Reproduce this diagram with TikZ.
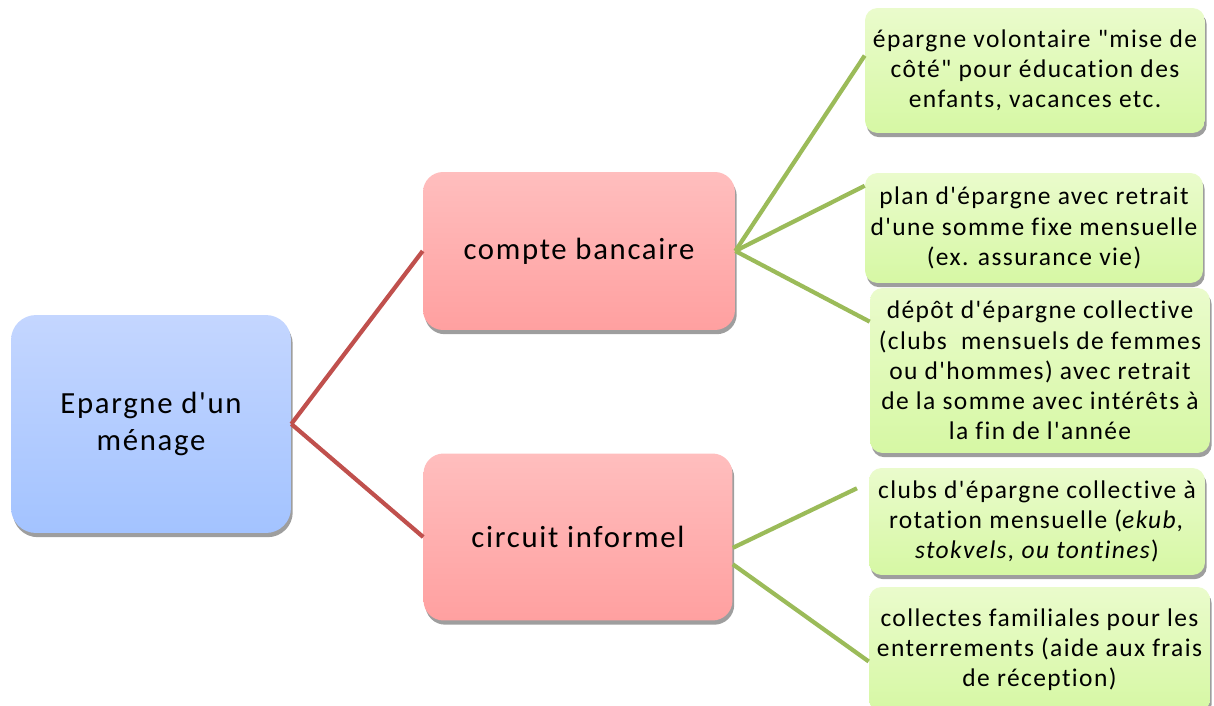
\documentclass[tikz,border=0pt]{standalone}
\usepackage{fontspec}
\setmainfont{Carlito}[Ligatures={TeXOff,NoCommon},LetterSpace=5.5]
\usetikzlibrary{shadows}
\definecolor{rootTop}{RGB}{196,214,255}
\definecolor{rootBot}{RGB}{163,195,255}
\definecolor{midTop}{RGB}{255,190,190}
\definecolor{midBot}{RGB}{255,160,160}
\definecolor{leafTop}{RGB}{234,251,204}
\definecolor{leafBot}{RGB}{214,248,164}
\definecolor{linkRed}{RGB}{192,80,77}
\definecolor{linkGreen}{RGB}{155,187,89}
\tikzset{
  basebox/.style={rectangle,align=center,inner sep=2pt,
    drop shadow={shadow xshift=1pt,shadow yshift=-2.4pt,fill=black!38,opacity=1}},
  rootnode/.style={basebox,rounded corners=0.5cm,top color=rootTop,bottom color=rootBot,
    font=\fontsize{17.5}{21.5}\selectfont},
  midnode/.style={basebox,rounded corners=0.4cm,top color=midTop,bottom color=midBot,
    font=\fontsize{17.5}{20}\selectfont},
  leafnode/.style={basebox,rounded corners=0.25cm,top color=leafTop,bottom color=leafBot,
    font=\fontsize{14.5}{17.2}\selectfont},
  redlink/.style={draw=linkRed,line width=2.4pt},
  greenlink/.style={draw=linkGreen,line width=2.4pt}
}

\begin{document}
\begin{tikzpicture}[x=0.02cm,y=-0.02cm]
  \useasboundingbox (0,0) rectangle (1214,706);

  \node[rootnode,minimum width=5.6cm,minimum height=4.36cm] (root) at (151,424) {Epargne d'un\\ménage};

  \node[midnode,minimum width=6.24cm,minimum height=3.16cm] (bank) at (579,251) {compte bancaire};
  \node[midnode,minimum width=6.18cm,minimum height=3.34cm] (informal) at (578,537) {circuit informel};

  \node[leafnode,minimum width=6.8cm,minimum height=2.5cm] (vol) at (1035,70.5)
    {épargne volontaire "mise de\\côté" pour éducation des\\enfants, vacances etc.};
  \node[leafnode,minimum width=6.76cm,minimum height=2.2cm] (plan) at (1034,228)
    {plan d'épargne avec retrait\\d'une somme fixe mensuelle\\(ex. assurance vie)};
  \node[leafnode,minimum width=6.8cm,minimum height=3.3cm] (depot) at (1040,370.5)
    {dépôt d'épargne collective\\(clubs\ \ mensuels de femmes\\ou d'hommes) avec retrait\\de la somme avec intérêts à\\la fin de l'année};
  \node[leafnode,minimum width=6.72cm,minimum height=2.14cm] (tontine) at (1037,521.5)
    {clubs d'épargne collective à\\rotation mensuelle (\textit{ekub,}\\\textit{stokvels, ou tontines})};
  \node[leafnode,minimum width=6.82cm,minimum height=2.5cm] (funeral) at (1039.5,649.5)
    {collectes familiales pour les\\enterrements (aide aux frais\\de réception)};

  % first level
  \draw[redlink] (root.east) -- (bank.west);
  \draw[redlink] (root.east) -- (informal.west);

  % second level
  \draw[greenlink] (bank.east) -- (vol.175.5);
  \draw[greenlink] (bank.east) -- (plan.166);
  \draw[greenlink] (bank.east) -- (depot.164.4);
  \draw[greenlink,shorten >=0.26cm] (informal.-4.4) -- (tontine.167.7);
  \draw[greenlink] (informal.-10.6) -- (funeral.184.2);
\end{tikzpicture}
\end{document}
